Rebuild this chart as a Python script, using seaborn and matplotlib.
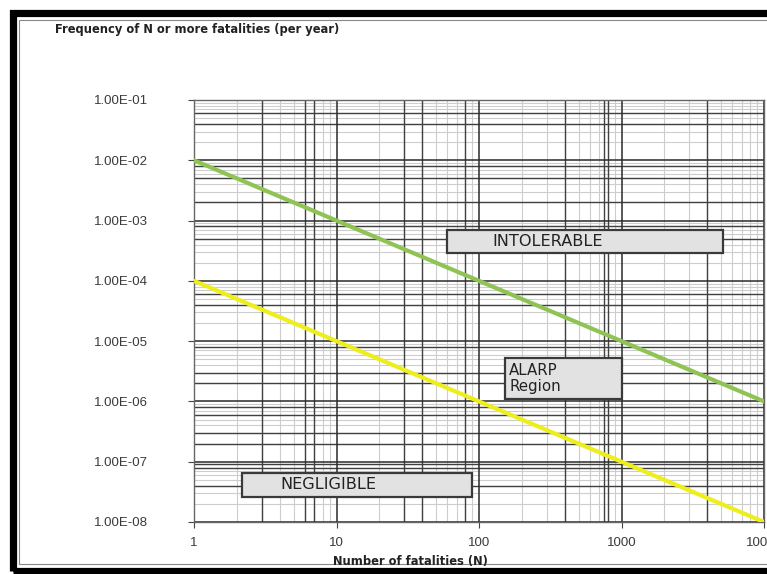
import numpy as np
import pandas as pd
import matplotlib
matplotlib.use("Agg")
import matplotlib.pyplot as plt
import seaborn as sns
from matplotlib.patches import Rectangle

# ---- data ----
fatalities = [1, 10, 100, 1000, 10000]
intolerable_freq = [1e-2, 1e-3, 1e-4, 1e-5, 1e-6]
negligible_freq = [1e-4, 1e-5, 1e-6, 1e-7, 1e-8]
y_ticks = [1e-8, 1e-7, 1e-6, 1e-5, 1e-4, 1e-3, 1e-2, 1e-1]
y_tick_labels = ["1.00E-08", "1.00E-07", "1.00E-06", "1.00E-05",
                 "1.00E-04", "1.00E-03", "1.00E-02", "1.00E-01"]
x_ticks = [1, 10, 100, 1000, 10000]
x_tick_labels = ["1", "10", "100", "1000", "10000"]
region_labels = ["INTOLERABLE", "ALARP\nRegion", "NEGLIGIBLE"]
title_text = "Frequency of N or more fatalities (per year)"
xlabel_text = "Number of fatalities (N)"

df = pd.DataFrame({
    "N": fatalities + fatalities,
    "freq": intolerable_freq + negligible_freq,
    "criterion": ["upper"] * len(fatalities) + ["lower"] * len(fatalities),
})

sns.set_style("white")
plt.rcParams['font.family'] = ['Liberation Sans', 'DejaVu Sans']

W, H = 767, 574
fig = plt.figure(figsize=(W / 100, H / 100), dpi=100)
ax = fig.add_axes([194 / W, 1 - 522 / H, (764 - 194) / W, (522 - 100) / H])
ax.set_xscale("log")
ax.set_yscale("log")
ax.set_xlim(1, 10000)
ax.set_ylim(1e-8, 1e-1)

# ---- grid (scanned-style) ----
light = "#cdcdcd"
dark = "#404040"
for d in range(4):
    for m in range(2, 10):
        ax.axvline(m * 10 ** d, color=light, lw=0.8, zorder=0)
for d in range(-8, -1):
    for m in range(2, 10):
        ax.axhline(m * 10.0 ** d, color=light, lw=0.8, zorder=0)
dark_x = [3, 6, 7, 30, 40, 80, 400, 750, 800, 4000]
for v in dark_x:
    ax.axvline(v, color=dark, lw=1.0, zorder=0.5)
dark_y = [6e-2, 4e-2, 8e-3, 5e-3, 2e-3, 8e-4, 5e-4, 6e-5, 4e-5, 8e-6, 3e-6, 2e-6,
          8e-7, 6e-7, 3e-7, 2e-7, 9e-8, 8e-8, 4e-8]
for v in dark_y:
    ax.axhline(v, color=dark, lw=1.0, zorder=0.5)
for v in x_ticks:
    ax.axvline(v, color="#2a2a2a", lw=1.1, zorder=0.6)
for v in y_ticks:
    ax.axhline(v, color="#2a2a2a", lw=1.1, zorder=0.6)

# ---- lines ----
sns.lineplot(data=df, x="N", y="freq", hue="criterion",
             palette={"upper": "#8fc455", "lower": "#eeee1c"},
             lw=3, legend=False, ax=ax, zorder=3)

ax.set_xlabel("")
ax.set_ylabel("")
ax.set_xticks(x_ticks)
ax.set_xticklabels(x_tick_labels)
ax.set_yticks(y_ticks)
ax.set_yticklabels(y_tick_labels)
ax.minorticks_off()
ax.tick_params(axis="y", which="major", direction="out", length=4, width=0.8,
               color="#444444", pad=29, labelsize=9.5, labelcolor="#3a3a3a", left=True)
ax.tick_params(axis="x", which="major", direction="out", length=4, width=0.8,
               color="#444444", pad=7, labelsize=9.5, labelcolor="#3a3a3a", bottom=True)
for s in ax.spines.values():
    s.set_color("#666666")
    s.set_linewidth(1.0)

# ---- region boxes ----
def region_box(x0, x1, y0, y1, text, tx, ty, size):
    ax.add_patch(Rectangle((x0, y0), x1 - x0, y1 - y0, transform=ax.transAxes,
                           facecolor="#e2e2e2", edgecolor="#3a3a3a", lw=1.6, zorder=5))
    ax.text(tx, ty, text, transform=ax.transAxes, ha="left", va="center",
            fontsize=size, color="#222222", zorder=6, linespacing=1.05,
            family=["DejaVu Sans"])

region_box(0.443, 0.928, 0.637, 0.692, region_labels[0], 0.524, 0.664, 11.6)
region_box(0.545, 0.750, 0.291, 0.389, region_labels[1], 0.553, 0.340, 10.8)
region_box(0.084, 0.487, 0.059, 0.116, region_labels[2], 0.151, 0.088, 11.6)

# ---- titles ----
fig.text(55 / W, 1 - 30 / H, title_text, fontsize=8.3, fontweight="bold",
         color="#222222", ha="left", va="center", family=["DejaVu Sans"])
fig.text(410 / W, 1 - 562 / H, xlabel_text, fontsize=8.3, fontweight="bold",
         color="#222222", ha="center", va="center", family=["DejaVu Sans"])

# ---- page frame ----
fig.add_artist(Rectangle((12.5 / W, 3 / H), 900 / W, (561.5 - 3) / H,
                         transform=fig.transFigure, fill=False,
                         edgecolor="black", lw=5.2, clip_on=False))
fig.add_artist(Rectangle((18.5 / W, 10 / H), 900 / W, (554 - 10) / H,
                         transform=fig.transFigure, fill=False,
                         edgecolor="#888888", lw=0.8, clip_on=False))

fig.savefig("out.png", dpi=100)
